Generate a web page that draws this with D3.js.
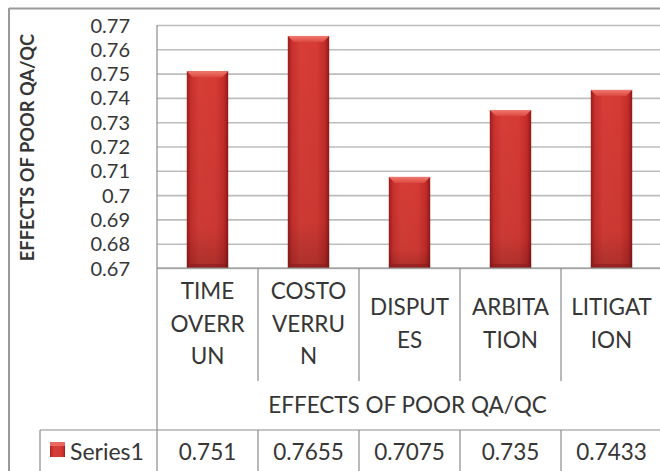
<!DOCTYPE html>
<html>
<head>
<meta charset="utf-8">
<script src="https://cdn.jsdelivr.net/npm/d3@7"></script>
<style>
  html, body { margin: 0; padding: 0; background: #fff; }
  svg { display: block; }
  text { font-family: Lato, "Open Sans", sans-serif; fill: #363636; }
</style>
</head>
<body>
<svg id="chart" width="660" height="471"></svg>
<script>
// ---- data ----
const categories = ["TIME OVERRUN", "COSTOVERRUN", "DISPUTES", "ARBITATION", "LITIGATION"];
const categoryLines = [["TIME", "OVERR", "UN"], ["COSTO", "VERRU", "N"], ["DISPUT", "ES"], ["ARBITA", "TION"], ["LITIGAT", "ION"]];
const values = [0.751, 0.7655, 0.7075, 0.735, 0.7433];
const valueLabels = ["0.751", "0.7655", "0.7075", "0.735", "0.7433"];
const yTicks = [0.67, 0.68, 0.69, 0.70, 0.71, 0.72, 0.73, 0.74, 0.75, 0.76, 0.77];
const yTickLabels = ["0.67", "0.68", "0.69", "0.7", "0.71", "0.72", "0.73", "0.74", "0.75", "0.76", "0.77"];
const seriesName = "Series1";
const axisTitle = "EFFECTS OF POOR QA/QC";

// ---- layout ----
const svg = d3.select("#chart");
const plotLeft = 157, plotRight = 662, plotTop = 25, plotBottom = 268;
const catRowBottom = 381, titleRowBottom = 430;

const x = d3.scaleBand().domain(categories).range([plotLeft, plotRight]).paddingInner(0.59).paddingOuter(0.295);
const xCell = d3.scaleBand().domain(categories).range([plotLeft, plotRight]).padding(0);
const y = d3.scaleLinear().domain([0.67, 0.77]).range([plotBottom, plotTop]);

// outer chart border
svg.append("line").attr("x1", 9).attr("x2", 660).attr("y1", 8.5).attr("y2", 8.5).attr("stroke", "#9a9a9a").attr("stroke-width", 2);
svg.append("line").attr("x1", 9).attr("x2", 9).attr("y1", 8).attr("y2", 471).attr("stroke", "#9a9a9a").attr("stroke-width", 2);

// gridlines
const gridAxis = d3.axisLeft(y).tickValues(yTicks).tickSize(-(plotRight - plotLeft)).tickFormat("");
const gg = svg.append("g").attr("transform", `translate(${plotLeft},0)`).call(gridAxis);
gg.select(".domain").remove();
gg.selectAll(".tick line").attr("stroke", "#bdbdbd").attr("stroke-width", 1.6);

// y tick labels
const yAxis = d3.axisLeft(y).tickValues(yTicks).tickSize(0).tickPadding(0)
  .tickFormat((d, i) => yTickLabels[i]);
const ya = svg.append("g").attr("transform", "translate(130,0)").call(yAxis);
ya.select(".domain").remove();
ya.selectAll("text").attr("font-size", 20).attr("fill", "#363636").attr("dy", "0.35em")
  .style("font-family", "Lato, 'Open Sans', sans-serif");

// y axis title
svg.append("text")
  .attr("transform", `translate(34,${(plotTop + plotBottom) / 2 + 1}) rotate(-90)`)
  .attr("text-anchor", "middle").attr("font-size", 18.3).attr("font-weight", "bold")
  .attr("fill", "#2e2e2e").text(axisTitle);

// gradients for bars
const defs = svg.append("defs");
const grad = defs.append("linearGradient").attr("id", "barGrad").attr("x1", "0%").attr("x2", "100%");
[["0%", "#9a1c1c"], ["10%", "#c8302d"], ["30%", "#d63d37"], ["70%", "#d63a34"], ["90%", "#c22c29"], ["100%", "#8f1818"]]
  .forEach(([o, c]) => grad.append("stop").attr("offset", o).attr("stop-color", c));
const topGrad = defs.append("linearGradient").attr("id", "topGrad").attr("x1", "0%").attr("x2", "0%").attr("y1", "0%").attr("y2", "100%");
[["0%", "#f07a70"], ["100%", "#dc4840"]].forEach(([o, c]) => topGrad.append("stop").attr("offset", o).attr("stop-color", c));
const vGrad = defs.append("linearGradient").attr("id", "vGrad").attr("x1", "0%").attr("x2", "0%").attr("y1", "0%").attr("y2", "100%");
[["0%", "#000", 0], ["80%", "#000", 0.05], ["100%", "#000", 0.2]].forEach(([o, c, a]) => vGrad.append("stop").attr("offset", o).attr("stop-color", c).attr("stop-opacity", a));

// bars
const bars = svg.append("g").selectAll("g").data(values).join("g");
bars.append("rect")
  .attr("x", (d, i) => x(categories[i])).attr("width", x.bandwidth())
  .attr("y", d => y(d)).attr("height", d => plotBottom - y(d))
  .attr("fill", "url(#barGrad)");
bars.append("rect")
  .attr("x", (d, i) => x(categories[i])).attr("width", x.bandwidth())
  .attr("y", d => y(d)).attr("height", d => plotBottom - y(d))
  .attr("fill", "url(#vGrad)");
bars.append("path")
  .attr("d", (d, i) => {
    const x0 = x(categories[i]), x1 = x0 + x.bandwidth(), t = y(d), b = 6;
    return `M${x0},${t} L${x1},${t} L${x1 - b},${t + b} L${x0 + b},${t + b} Z`;
  })
  .attr("fill", "url(#topGrad)");
bars.append("path")
  .attr("d", (d, i) => {
    const x0 = x(categories[i]), x1 = x0 + x.bandwidth(), bt = plotBottom, b = 4;
    return `M${x0},${bt} L${x1},${bt} L${x1 - b},${bt - b} L${x0 + b},${bt - b} Z`;
  })
  .attr("fill", "#8a1a1a").attr("opacity", 0.6);

// plot axis lines
const lineColor = "#8c8c8c";
svg.append("line").attr("x1", plotLeft).attr("x2", plotLeft).attr("y1", plotTop).attr("y2", 471).attr("stroke", lineColor).attr("stroke-width", 1.2);
svg.append("line").attr("x1", plotLeft).attr("x2", 660).attr("y1", plotBottom).attr("y2", plotBottom).attr("stroke", lineColor).attr("stroke-width", 1.2);

// category separators
svg.append("g").selectAll("line").data(categories.slice(1)).join("line")
  .attr("x1", d => xCell(d)).attr("x2", d => xCell(d))
  .attr("y1", plotBottom).attr("y2", catRowBottom)
  .attr("stroke", lineColor).attr("stroke-width", 1.2);

// category labels
const lineH = 32.5;
const catCenter = (plotBottom + catRowBottom) / 2 - 1;
svg.append("g").selectAll("text").data(categoryLines).join("text")
  .attr("text-anchor", "middle").attr("font-size", 22.5)
  .attr("x", (d, i) => xCell(categories[i]) + xCell.bandwidth() / 2)
  .each(function (lines) {
    const t = d3.select(this);
    const start = catCenter - (lines.length - 1) * lineH / 2;
    lines.forEach((ln, k) => {
      t.append("tspan").attr("x", t.attr("x")).attr("y", start + k * lineH).attr("dy", "0.36em").text(ln);
    });
  });

// x axis title
svg.append("text").attr("x", (plotLeft + plotRight) / 2 - 2).attr("y", 405).attr("dy", "0.36em")
  .attr("text-anchor", "middle").attr("font-size", 22.5).text(axisTitle);

// data table
svg.append("line").attr("x1", 40).attr("x2", 660).attr("y1", titleRowBottom).attr("y2", titleRowBottom).attr("stroke", lineColor).attr("stroke-width", 1.2);
svg.append("line").attr("x1", 40).attr("x2", 40).attr("y1", titleRowBottom).attr("y2", 471).attr("stroke", lineColor).attr("stroke-width", 1.2);
svg.append("g").selectAll("line").data(categories.slice(1)).join("line")
  .attr("x1", d => xCell(d)).attr("x2", d => xCell(d))
  .attr("y1", titleRowBottom).attr("y2", 471)
  .attr("stroke", lineColor).attr("stroke-width", 1.2);
svg.append("g").selectAll("text").data(valueLabels).join("text")
  .attr("x", (d, i) => xCell(categories[i]) + xCell.bandwidth() / 2)
  .attr("y", 452).attr("dy", "0.36em").attr("text-anchor", "middle").attr("font-size", 22.5)
  .text(d => d);

// legend key
svg.append("rect").attr("x", 50).attr("y", 442).attr("width", 15).attr("height", 15).attr("fill", "url(#barGrad)");
svg.append("rect").attr("x", 50).attr("y", 442).attr("width", 15).attr("height", 4).attr("fill", "#e8675e");
svg.append("text").attr("x", 70).attr("y", 452).attr("dy", "0.36em").attr("font-size", 23).text(seriesName);
</script>
</body>
</html>
